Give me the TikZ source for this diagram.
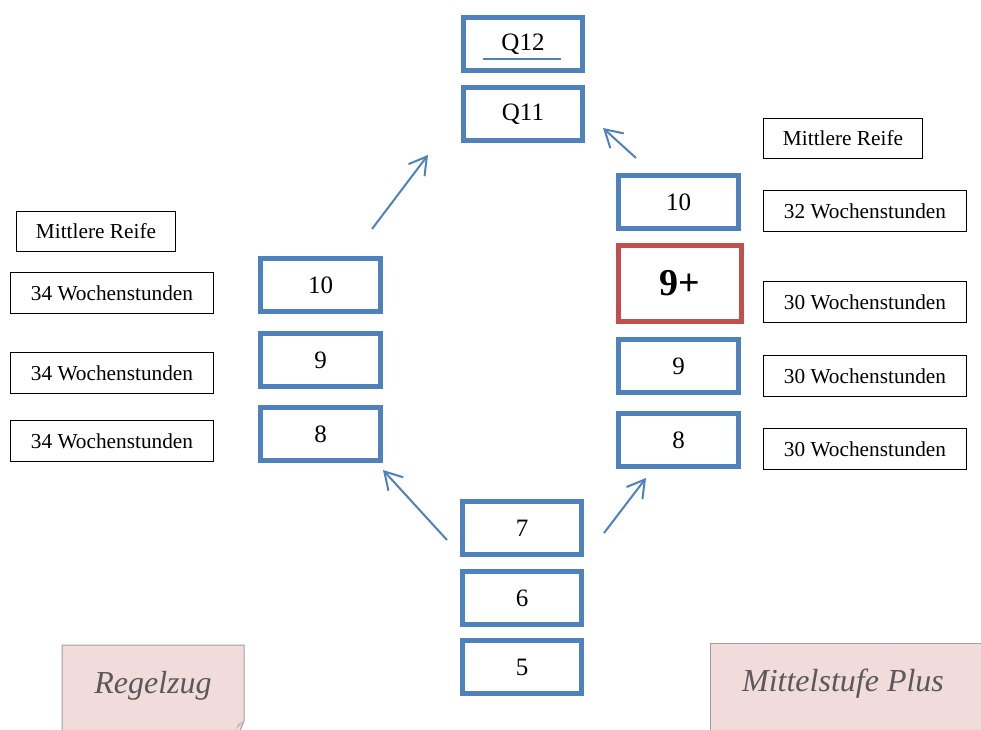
\documentclass[tikz,border=0pt]{standalone}
\usepackage{fontspec}
\setmainfont{Liberation Serif}
\usetikzlibrary{arrows.meta}
\definecolor{obl}{RGB}{79,129,189}
\definecolor{ored}{RGB}{192,80,77}
\definecolor{pinkf}{RGB}{242,219,219}
\definecolor{pinkd}{RGB}{160,160,160}
\definecolor{txtg}{RGB}{89,89,89}
\tikzset{
  grade/.style={draw=obl, line width=5pt, minimum width=119pt, minimum height=53pt, inner sep=0pt, font=\fontsize{25}{29}\selectfont},
  plusbox/.style={draw=ored, line width=5pt, minimum width=123pt, minimum height=76pt, inner sep=0pt, font=\fontsize{38}{42}\selectfont\bfseries},
  info/.style={draw=black, line width=1pt, minimum width=203pt, minimum height=41pt, inner sep=0pt, font=\fontsize{21.3}{25}\selectfont},
  mr/.style={draw=black, line width=1pt, minimum width=159pt, minimum height=40pt, inner sep=0pt, font=\fontsize{21.3}{25}\selectfont},
  uparrow/.style={draw=obl, line width=2pt, -{Straight Barb[length=17pt,width=20pt,line width=2pt]}},
  tag/.style={font=\fontsize{32}{36}\selectfont\itshape, text=txtg}
}
\begin{document}
\begin{tikzpicture}[x=1pt,y=-1pt]
\useasboundingbox (0,0) rectangle (981,729);
\clip (0,0) rectangle (981,729);
\fill[white] (0,0) rectangle (981,729);
% grade boxes centre column
\node[grade] (q12) at (523,44) {Q12};
\node[grade] (q11) at (523,114) {Q11};
\node[grade] (g7) at (522,528) {7};
\node[grade] (g6) at (522,598) {6};
\node[grade] (g5) at (522,667) {5};
% left column
\node[grade,minimum width=120pt] (l10) at (320.5,285) {10};
\node[grade,minimum width=120pt] (l9) at (320.5,360) {9};
\node[grade,minimum width=120pt] (l8) at (320.5,434) {8};
% right column
\node[grade,minimum width=120pt] (r10) at (678.5,202) {10};
\node[plusbox] (r9p) at (680,283.5) {9+};
\node[grade,minimum width=120pt] (r9) at (678.5,366) {9};
\node[grade,minimum width=120pt] (r8) at (678.5,440) {8};
% underline in Q12
\draw[obl, line width=2pt] ([xshift=-40pt,yshift=-15pt]q12.center) -- ([xshift=38pt,yshift=-15pt]q12.center);
% info boxes left
\node[mr] (lmr) at (96,231) {Mittlere Reife};
\node[info] (l34a) at (112,293) {\raisebox{-1.5pt}{34 Wochenstunden}};
\node[info] (l34b) at (112,373) {\raisebox{-1.5pt}{34 Wochenstunden}};
\node[info] (l34c) at (112,441) {\raisebox{-1.5pt}{34 Wochenstunden}};
% info boxes right
\node[mr] (rmr) at (843,138) {Mittlere Reife};
\node[info] (r32) at (865,211) {32 Wochenstunden};
\node[info] (r30a) at (865,302) {\raisebox{-1.5pt}{30 Wochenstunden}};
\node[info] (r30b) at (865,376) {30 Wochenstunden};
\node[info] (r30c) at (865,449) {30 Wochenstunden};
% arrows
\coordinate (a1s) at (447,540); \coordinate (a1e) at (383,470);
\coordinate (a2s) at (604,533); \coordinate (a2e) at (646,478);
\coordinate (a3s) at (372,229); \coordinate (a3e) at (428,155);
\coordinate (a4s) at (636,158); \coordinate (a4e) at (603,128);
\draw[uparrow] (a1s) -- (a1e);
\draw[uparrow] (a2s) -- (a2e);
\draw[uparrow] (a3s) -- (a3e);
\draw[uparrow] (a4s) -- (a4e);
% bottom tags
\path[fill=pinkf, draw=pinkd, line width=1pt] (62,740) -- (62,645) -- (244,645) -- (244,721) -- (236,740);
\fill[pinkd!70] (244,721) -- (236,729) -- (238,724) -- cycle;
\node[tag] (regel) at (153,686) {Regelzug};
\path[fill=pinkf, draw=pinkd, line width=1pt] (710,740) -- (710,643) -- (990,643) -- (990,740);
\node[tag] (plus) at (843,684) {Mittelstufe Plus};
\end{tikzpicture}
\end{document}
